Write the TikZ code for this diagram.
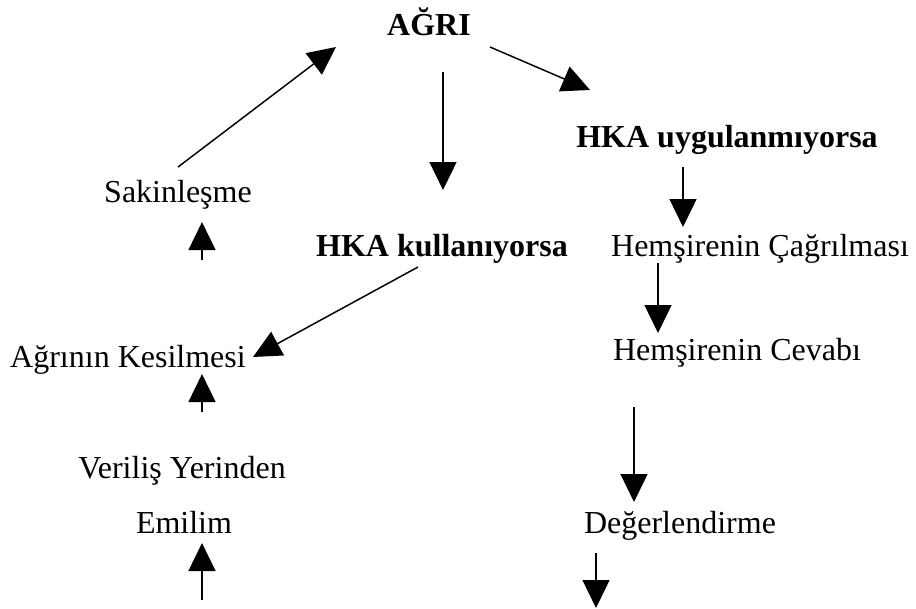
\documentclass[tikz,border=0pt]{standalone}
\usepackage{fontspec}
\setmainfont{Liberation Serif}
\usetikzlibrary{arrows.meta}

\tikzset{
  >={Triangle[length=21pt,width=20pt]},
  lbl/.style={anchor=base, inner sep=0pt, font=\fontsize{24}{29}\selectfont},
  boldlbl/.style={lbl, font=\fontsize{24}{29}\selectfont\bfseries},
  arr/.style={->, line width=1.1pt},
  varr/.style={->, line width=2pt},
}

\begin{document}
\begin{tikzpicture}[x=0.75pt, y=-0.75pt]
  \useasboundingbox (0,0) rectangle (916,608);

  % texts
  \node[boldlbl] (agri) at (429,35) {AĞRI};
  \node[boldlbl] (uyg) at (727,147) {HKA uygulanmıyorsa};
  \node[lbl] (sakin) at (178,202) {Sakinleşme};
  \node[boldlbl] (kull) at (442,256) {HKA kullanıyorsa};
  \node[lbl] (cagri) at (760,256) {Hemşirenin Çağrılması};
  \node[lbl] (kesil) at (128,367) {Ağrının Kesilmesi};
  \node[lbl] (cevap) at (737,360) {Hemşirenin Cevabı};
  \node[lbl] (veri) at (182,478) {Veriliş Yerinden};
  \node[lbl] (emil) at (184,533) {Emilim};
  \node[lbl] (deger) at (680,533) {Değerlendirme};

  % arrow ends
  \coordinate (sakinT) at (178,167);
  \coordinate (agriL) at (336,47);
  \coordinate (agriB) at (443,72);
  \coordinate (kullT) at (443,190);
  \coordinate (agriR) at (490,47);
  \coordinate (uygL) at (590,90);
  \coordinate (uygB) at (683,167);
  \coordinate (cagriT) at (683,227);
  \coordinate (sakinB) at (202,222);
  \coordinate (sakinU) at (202,260);
  \coordinate (kullB) at (418,267);
  \coordinate (kesilR) at (253,357);
  \coordinate (kesilB) at (202,374);
  \coordinate (veriT) at (202,412);
  \coordinate (cagriB) at (658,263);
  \coordinate (cevapT) at (658,333);
  \coordinate (emilB) at (202,543);
  \coordinate (emilU) at (202,600);
  \coordinate (cevapB) at (634,407);
  \coordinate (degerT) at (634,502);
  \coordinate (degerB) at (596,553);
  \coordinate (degerU) at (596,608);

  % arrows
  \draw[arr] (sakinT) -- (agriL);
  \draw[varr] (agriB) -- (kullT);
  \draw[arr] (agriR) -- (uygL);
  \draw[varr] (uygB) -- (cagriT);
  \draw[varr] (sakinU) -- (sakinB);
  \draw[arr] (kullB) -- (kesilR);
  \draw[varr] (veriT) -- (kesilB);
  \draw[varr] (cagriB) -- (cevapT);
  \draw[varr] (emilU) -- (emilB);
  \draw[varr] (cevapB) -- (degerT);
  \draw[varr] (degerB) -- (degerU);

\end{tikzpicture}
\end{document}
